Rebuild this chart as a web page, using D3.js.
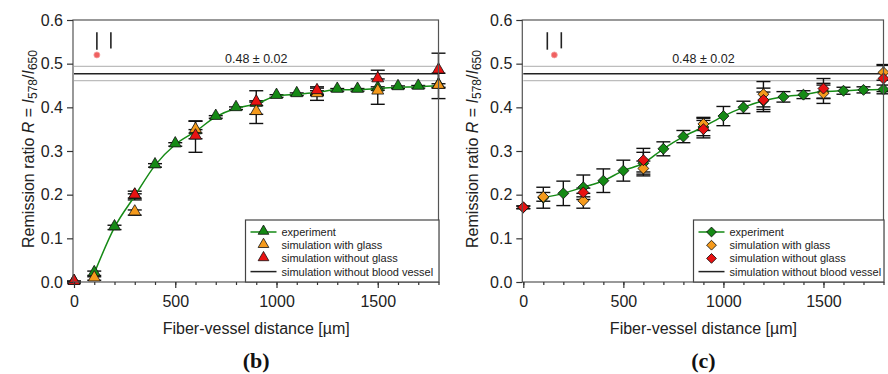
<!DOCTYPE html>
<html>
<head>
<meta charset="utf-8">
<script src="https://cdn.jsdelivr.net/npm/d3@7"></script>
<style>
  body { margin: 0; background: #fff; }
  svg { display: block; }
</style>
</head>
<body>
<script>
// distances [um]
var expX = [100,200,300,400,500,600,700,800,900,1000,1100,1200,1300,1400,1500,1600,1700,1800];
var simX = [0,100,300,600,900,1200,1500,1800];

// panel (b)
var expB      = [0.020,0.125,0.197,0.267,0.315,0.345,0.378,0.398,0.408,0.426,0.430,0.434,0.440,0.440,0.443,0.446,0.447,0.450];
var expBErr   = [0.005,0.005,0.005,0.004,0.004,0.004,0.003,0.003,0.004,0.003,0.003,0.004,0.003,0.003,0.004,0.003,0.003,0.004];
var glassB    = [0.000,0.008,0.159,0.348,0.389,0.430,0.436,0.449];
var glassBErr = [0.002,0.004,0.006,0.020,0.026,0.014,0.029,0.029];
var noGlassB    = [0.000,null,0.198,0.333,0.411,0.437,0.464,0.484];
var noGlassBErr = [0.002,null,0.010,0.036,0.027,0.010,0.021,0.040];

// panel (c)
var expC      = [0.193,0.203,0.217,0.232,0.255,0.272,0.305,0.333,0.355,0.380,0.400,0.415,0.424,0.429,0.436,0.438,0.440,0.441];
var expCErr   = [0.024,0.028,0.028,0.027,0.024,0.025,0.016,0.014,0.020,0.022,0.014,0.020,0.012,0.009,0.015,0.008,0.007,0.010];
var glassC    = [0.171,0.195,0.186,0.260,0.362,0.430,0.432,0.480];
var glassCErr = [0.003,0.010,0.017,0.017,0.015,0.029,0.023,0.018];
var noGlassC    = [0.171,null,0.205,0.279,0.350,0.417,0.443,0.466];
var noGlassCErr = [0.003,null,0.010,0.027,0.020,0.027,0.023,0.030];

// simulation without blood vessel: 0.48 +- 0.02 (as drawn)
var noVessel = [0.477, 0.461, 0.494];
var yTicks = [0.0,0.1,0.2,0.3,0.4,0.5,0.6];
var xTicks = [0,500,1000,1500];
var legendLabels = ["experiment","simulation with glass","simulation without glass","simulation without blood vessel"];

var green = "#158a15", orange = "#f59a1c", red = "#e81212";
var font = "'Liberation Sans', Arial, sans-serif";

var svg = d3.select("body").append("svg")
    .attr("width", 888)
    .attr("height", 374);

function drawPanel(p) {
    var x = d3.scaleLinear().domain([0,1800]).range([p.left, p.right]);
    var y = d3.scaleLinear().domain([0,0.6]).range([282, 20]);
    var g = svg.append("g");

    // reference lines
    g.selectAll(".nv").data(noVessel).enter().append("line")
        .attr("x1", p.left).attr("x2", p.right)
        .attr("y1", function(d){ return y(d); })
        .attr("y2", function(d){ return y(d); })
        .attr("stroke", function(d,i){ return i == 0 ? "#222" : "#bdbdbd"; })
        .attr("stroke-width", function(d,i){ return i == 0 ? 1.6 : 1.3; });
    g.append("text")
        .attr("x", (p.left + p.right)/2).attr("y", y(0.494) - 3)
        .attr("text-anchor", "middle")
        .attr("font-family", font).attr("font-size", 12.5).attr("fill", "#222")
        .text("0.48 \u00b1 0.02");

    // odd marks top-left
    var mx = x(p.markX);
    g.append("line").attr("x1", mx).attr("x2", mx).attr("y1", y(0.572)).attr("y2", y(0.532))
        .attr("stroke", "#222").attr("stroke-width", 1.6);
    g.append("line").attr("x1", mx + 14).attr("x2", mx + 14).attr("y1", y(0.572)).attr("y2", y(0.535))
        .attr("stroke", "#222").attr("stroke-width", 1.6);
    g.append("circle").attr("cx", mx + p.dotShift).attr("cy", y(0.52)).attr("r", 3)
        .attr("fill", "#f06060").attr("stroke", "#f4a0a0").attr("stroke-width", 0.8);

    // error bars
    function errBars(xs, vs, es) {
        xs.forEach(function(xv, i) {
            if (vs[i] == null) return;
            var cx = x(xv), y0 = y(vs[i] - es[i]), y1 = y(vs[i] + es[i]);
            g.append("line").attr("x1", cx).attr("x2", cx).attr("y1", y0).attr("y2", y1)
                .attr("stroke", "#111").attr("stroke-width", 1.4);
            [y0, y1].forEach(function(yy) {
                g.append("line").attr("x1", cx - 7).attr("x2", cx + 7).attr("y1", yy).attr("y2", yy)
                    .attr("stroke", "#111").attr("stroke-width", 1.4);
            });
        });
    }
    errBars(expX, p.exp, p.expErr);
    errBars(simX, p.glass, p.glassErr);
    errBars(simX, p.noGlass, p.noGlassErr);

    // experiment line
    var line = d3.line()
        .x(function(d, i){ return x(expX[i]); })
        .y(function(d){ return y(d); })
        .curve(d3.curveMonotoneX);
    g.append("path").attr("d", line(p.exp))
        .attr("fill", "none").attr("stroke", green).attr("stroke-width", 1.5);

    var sym = d3.symbol().type(p.shape).size(p.size);
    function markers(xs, vs, col) {
        var pts = xs.map(function(xv, i){ return [xv, vs[i]]; })
            .filter(function(d){ return d[1] != null; });
        g.selectAll(null).data(pts).enter().append("path")
            .attr("d", sym)
            .attr("transform", function(d){
                return "translate(" + x(d[0]) + "," + (y(d[1]) + p.dy) + ") rotate(" + p.rot + ")";
            })
            .attr("fill", col).attr("stroke", "#111").attr("stroke-width", 0.8);
    }
    markers(expX, p.exp, green);
    markers(simX, p.glass, orange);
    markers(simX, p.noGlass, red);

    // frame
    g.append("rect").attr("x", p.left - 1).attr("y", 20)
        .attr("width", p.right - p.left + 1).attr("height", 262)
        .attr("fill", "none").attr("stroke", "#555").attr("stroke-width", 1.2);

    // axes
    var yAxis = d3.axisLeft(y).tickValues(yTicks).tickSize(6).tickPadding(4)
        .tickFormat(d3.format(".1f"));
    g.append("g").attr("transform", "translate(" + (p.left - 1) + ",0)").call(yAxis);
    var xMinor = d3.axisBottom(x).tickValues(d3.range(0, 1801, 100)).tickSize(3).tickFormat("");
    g.append("g").attr("transform", "translate(0,282)").call(xMinor);
    var xAxis = d3.axisBottom(x).tickValues(xTicks).tickSize(6).tickPadding(8)
        .tickFormat(d3.format("d"));
    g.append("g").attr("transform", "translate(0,282)").call(xAxis);
    g.selectAll(".domain").remove();
    g.selectAll(".tick line").attr("stroke", "#333").attr("stroke-width", 1.2);
    g.selectAll(".tick text").attr("font-family", font).attr("font-size", 16).attr("fill", "#222");

    // axis titles
    var cx = (p.left + p.right)/2;
    g.append("text").attr("x", cx).attr("y", 334)
        .attr("text-anchor", "middle").attr("font-family", font).attr("font-size", 16).attr("fill", "#222")
        .text("Fiber-vessel distance [\u00b5m]");
    g.append("text").attr("x", cx).attr("y", 368)
        .attr("text-anchor", "middle").attr("font-family", "'Liberation Serif', 'Times New Roman', serif")
        .attr("font-weight", "bold").attr("font-size", 22).attr("fill", "#111")
        .text(p.title);

    var yl = g.append("text")
        .attr("transform", "translate(" + p.ylabX + ",149) rotate(-90)")
        .attr("text-anchor", "middle").attr("font-family", font).attr("font-size", 16).attr("fill", "#222");
    yl.append("tspan").text("Remission ratio ");
    yl.append("tspan").attr("font-style", "italic").text("R");
    yl.append("tspan").text(" = ");
    yl.append("tspan").attr("font-style", "italic").text("I");
    yl.append("tspan").attr("font-size", 12).attr("dy", 3).text("578");
    yl.append("tspan").attr("dy", -3).text("/");
    yl.append("tspan").attr("font-style", "italic").text("I");
    yl.append("tspan").attr("font-size", 12).attr("dy", 3).text("650");

    // legend
    var lx = p.legX, ly = 220;
    g.append("rect").attr("x", lx).attr("y", ly).attr("width", p.right - lx + 0.5).attr("height", 282 - ly)
        .attr("fill", "#fff").attr("stroke", "#444").attr("stroke-width", 1.2);
    var cols = [green, orange, red, null];
    legendLabels.forEach(function(lab, i) {
        var yy = ly + 12 + i * 13.2;
        var sx = lx + 18;
        if (i == 0 || i == 3) {
            g.append("line").attr("x1", lx + 5).attr("x2", lx + 31).attr("y1", yy).attr("y2", yy)
                .attr("stroke", i == 0 ? green : "#222").attr("stroke-width", 1.5);
        }
        if (cols[i]) {
            g.append("path").attr("d", d3.symbol().type(p.shape).size(p.size * 0.8))
                .attr("transform", "translate(" + sx + "," + (yy + p.dy * 0.8) + ") rotate(" + p.rot + ")")
                .attr("fill", cols[i]).attr("stroke", "#111").attr("stroke-width", 0.8);
        }
        g.append("text").attr("x", lx + 36).attr("y", yy + 4)
            .attr("font-family", font).attr("font-size", 11).attr("fill", "#222")
            .text(lab);
    });
}

drawPanel({left: 74, right: 438.5, exp: expB, expErr: expBErr, glass: glassB, glassErr: glassBErr,
    noGlass: noGlassB, noGlassErr: noGlassBErr, shape: d3.symbolTriangle, size: 62, dy: -1, rot: 0,
    title: "(b)", ylabX: 34, legX: 245.5, markX: 113, dotShift: 0});
drawPanel({left: 523.3, right: 883.5, exp: expC, expErr: expCErr, glass: glassC, glassErr: glassCErr,
    noGlass: noGlassC, noGlassErr: noGlassCErr, shape: d3.symbolSquare, size: 60, dy: 0, rot: 45,
    title: "(c)", ylabX: 478, legX: 693.5, markX: 120, dotShift: 7});
</script>
</body>
</html>
